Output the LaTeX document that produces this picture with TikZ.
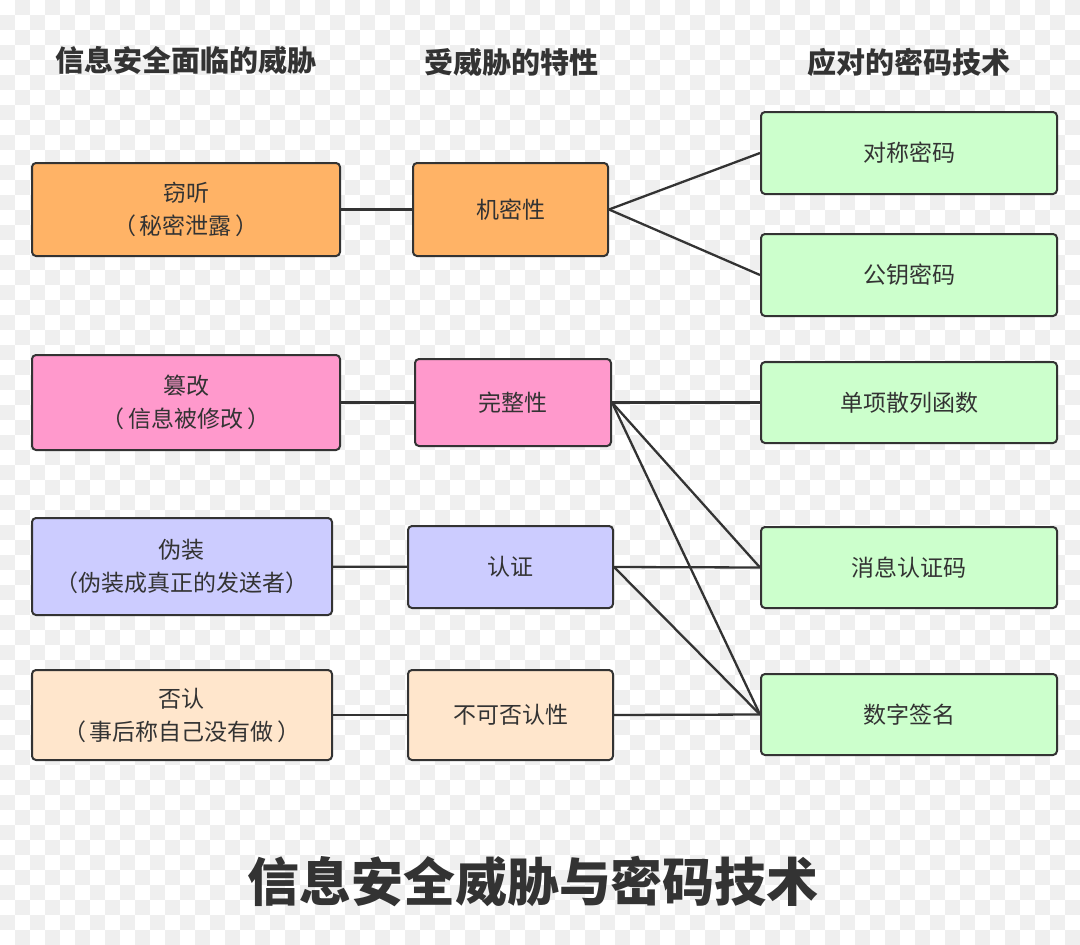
\documentclass[tikz,border=0pt]{standalone}
\usepackage{fontspec}
\setmainfont{Noto Sans CJK SC}
\usepackage{tikz}
\definecolor{ink}{HTML}{333333}
\definecolor{chkgray}{HTML}{EFEFEF}
\definecolor{orangefill}{HTML}{FFB366}
\definecolor{pinkfill}{HTML}{FF99CC}
\definecolor{bluefill}{HTML}{CCCCFF}
\definecolor{peachfill}{HTML}{FFE6CC}
\definecolor{greenfill}{HTML}{CCFFCC}
\newcommand{\pargap}{\hspace{4pt}}

\begin{document}
\begin{tikzpicture}[x=1pt,y=-1pt,
                    box/.style={draw=ink,line width=2pt,rounded corners=4pt,
                        inner sep=0pt,align=center,text=ink,
                        font=\fontsize{23}{33}\selectfont},
                    head/.style={text=ink,font=\bfseries\fontsize{29}{34}\selectfont},
                    link/.style={draw=ink,line width=2.3pt}]
                    \useasboundingbox (0,0) rectangle (1080,945);
                    \fill[white] (0,0) rectangle (1080,945);
                    \foreach \i in {0,...,71}{
                        \foreach \j in {0,...,62}{
                            \pgfmathtruncatemacro\k{mod(\i+\j,2)}
                            \ifnum\k=1 \fill[chkgray] (\i*15,\j*15) rectangle ++(15,15);\fi
                        }
                    }

                    \node[head] (h1) at (186,60) {信息安全面临的威胁};
                    \node[head] (h2) at (511,62) {受威胁的特性};
                    \node[head] (h3) at (909,62) {应对的密码技术};

                    \node[box,fill=orangefill,minimum width=308pt,minimum height=93pt] (qieting) at (186,209.5) {窃听\\（\pargap 秘密泄露\pargap ）};
                    \node[box,fill=pinkfill,minimum width=308pt,minimum height=95pt] (cuangai) at (186,402.5) {篡改\\（\pargap 信息被修改\pargap ）};
                    \node[box,fill=bluefill,minimum width=300pt,minimum height=97pt] (weizhuang) at (182,566.5) {伪装\\（伪装成真正的发送者）};
                    \node[box,fill=peachfill,minimum width=300pt,minimum height=90pt] (fouren) at (182,715) {否认\\（\pargap 事后称自己没有做\pargap ）};

                    \node[box,fill=orangefill,minimum width=195pt,minimum height=93pt] (jimi) at (510.5,209.5) {机密性};
                    \node[box,fill=pinkfill,minimum width=196pt,minimum height=87pt] (wanzheng) at (513,402.5) {完整性};
                    \node[box,fill=bluefill,minimum width=205pt,minimum height=82pt] (renzheng) at (510.5,567) {认证};
                    \node[box,fill=peachfill,minimum width=205pt,minimum height=90pt] (bukefouren) at (510.5,715) {不可否认性};

                    \node[box,fill=greenfill,minimum width=296pt,minimum height=82pt] (duichen) at (909,153) {对称密码};
                    \node[box,fill=greenfill,minimum width=296pt,minimum height=82pt] (gongyao) at (909,275) {公钥密码};
                    \node[box,fill=greenfill,minimum width=296pt,minimum height=81pt] (sanlie) at (909,402.5) {单项散列函数};
                    \node[box,fill=greenfill,minimum width=296pt,minimum height=81pt] (xiaoxi) at (909,567.5) {消息认证码};
                    \node[box,fill=greenfill,minimum width=296pt,minimum height=81pt] (qianming) at (909,714.5) {数字签名};

                    \draw[link] (qieting) -- (jimi);
                    \draw[link] (cuangai) -- (wanzheng);
                    \draw[link] (weizhuang) -- (renzheng);
                    \draw[link] (fouren) -- (bukefouren);

                    \draw[link] (jimi.east) -- (duichen.west);
                    \draw[link] (jimi.east) -- (gongyao.west);
                    \draw[link] (wanzheng.east) -- (sanlie.west);
                    \draw[link] (wanzheng.east) -- (xiaoxi.west);
                    \draw[link] (wanzheng.east) -- (qianming.west);
                    \draw[link] (renzheng.east) -- (xiaoxi.west);
                    \draw[link] (renzheng.east) -- (qianming.west);
                    \draw[link] (bukefouren.east) -- (qianming.west);

                    \node[text=ink,font=\bfseries\fontsize{52}{60}\selectfont] (title) at (533,882) {信息安全威胁与密码技术};
                \end{tikzpicture}
\end{document}
